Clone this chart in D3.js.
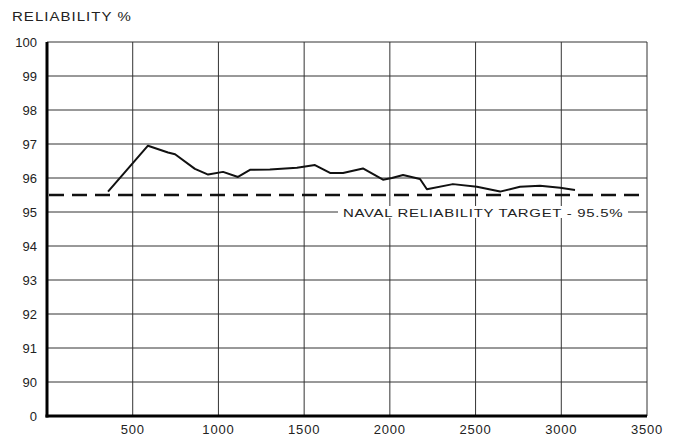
<!DOCTYPE html>
<html>
<head>
<meta charset="utf-8">
<script src="https://cdn.jsdelivr.net/npm/d3@7"></script>
<style>
  body { margin: 0; background: #fff; }
  svg { display: block; font-family: "Liberation Sans", Arial, sans-serif; }
</style>
</head>
<body>
<svg id="chart" width="676" height="438"></svg>
<script>
// values
const xVals = [356, 589, 706, 747, 863, 940, 1027, 1114, 1184, 1300, 1458, 1563, 1651, 1727, 1843, 1960, 2012, 2077, 2176, 2216, 2368, 2508, 2643, 2759, 2876, 2993, 3080];
const reliability = [95.6, 96.95, 96.75, 96.7, 96.27, 96.1, 96.18, 96.03, 96.24, 96.25, 96.3, 96.38, 96.15, 96.15, 96.28, 95.95, 96.0, 96.09, 95.97, 95.67, 95.82, 95.74, 95.6, 95.74, 95.77, 95.71, 95.65];
const target = 95.5;
const xTicks = [500, 1000, 1500, 2000, 2500, 3000, 3500];
// broken axis: bottom line stands for 0, the rest 90..100
const yTicks = [89, 90, 91, 92, 93, 94, 95, 96, 97, 98, 99, 100];
const yTickLabel = d => d === 89 ? "0" : String(d);

const svg = d3.select("#chart");
const x = d3.scaleLinear().domain([0, 3500]).range([47, 647]);
const y = d3.scaleLinear().domain([89, 100]).range([416, 42]);

// grid
svg.append("g")
    .selectAll("line.h")
    .data(yTicks.filter(d => d > 89))
    .enter().append("line")
    .attr("x1", x(0)).attr("x2", x(3500))
    .attr("y1", d => y(d)).attr("y2", d => y(d))
    .attr("stroke", "#333").attr("stroke-width", 1);

svg.append("g")
    .selectAll("line.v")
    .data(xTicks)
    .enter().append("line")
    .attr("x1", d => x(d)).attr("x2", d => x(d))
    .attr("y1", y(100)).attr("y2", y(89))
    .attr("stroke", "#333").attr("stroke-width", 1);

// frame: heavy left/bottom axes
svg.append("line")
    .attr("x1", x(0)).attr("x2", x(0))
    .attr("y1", y(100)).attr("y2", y(89) + 1.5)
    .attr("stroke", "#000").attr("stroke-width", 3);
svg.append("line")
    .attr("x1", x(0) - 1.5).attr("x2", x(3500))
    .attr("y1", y(89)).attr("y2", y(89))
    .attr("stroke", "#000").attr("stroke-width", 3);

// target dashed line
svg.append("line")
    .attr("x1", x(0) + 2).attr("x2", x(3500))
    .attr("y1", y(target)).attr("y2", y(target))
    .attr("stroke", "#111").attr("stroke-width", 2.5)
    .attr("stroke-dasharray", "15,8");

// target label on the 95 gridline; the typeface in the original is an extended sans,
// so stretch it horizontally
const lbl = svg.append("text")
    .attr("transform", `translate(343,${y(95) + 5}) scale(1.3,1)`)
    .attr("font-size", 11.5)
    .attr("textLength", 215)
    .attr("lengthAdjust", "spacing")
    .attr("fill", "#222")
    .text("NAVAL RELIABILITY TARGET - 95.5%");
svg.insert("rect", "text")
    .attr("x", 338).attr("y", y(95) - 6)
    .attr("width", 290).attr("height", 12)
    .attr("fill", "#fff");

// data line
const line = d3.line()
    .x((d, i) => x(xVals[i]))
    .y(d => y(d));
svg.append("path")
    .datum(reliability)
    .attr("d", line)
    .attr("fill", "none")
    .attr("stroke", "#111")
    .attr("stroke-width", 2)
    .attr("stroke-linejoin", "round");

// axes labels
svg.append("g")
    .selectAll("text")
    .data(yTicks)
    .enter().append("text")
    .attr("x", 37).attr("y", d => y(d) + 5)
    .attr("text-anchor", "end")
    .attr("font-size", 13)
    .attr("fill", "#222")
    .text(yTickLabel);

svg.append("g")
    .selectAll("text")
    .data(xTicks)
    .enter().append("text")
    .attr("x", d => x(d)).attr("y", 434)
    .attr("text-anchor", "middle")
    .attr("font-size", 13)
    .attr("letter-spacing", 0.8)
    .attr("fill", "#222")
    .text(d => d);

svg.append("text")
    .attr("transform", "translate(12,21) scale(1.25,1)")
    .attr("font-size", 12)
    .attr("textLength", 95)
    .attr("lengthAdjust", "spacing")
    .attr("fill", "#222")
    .text("RELIABILITY  %");
</script>
</body>
</html>
